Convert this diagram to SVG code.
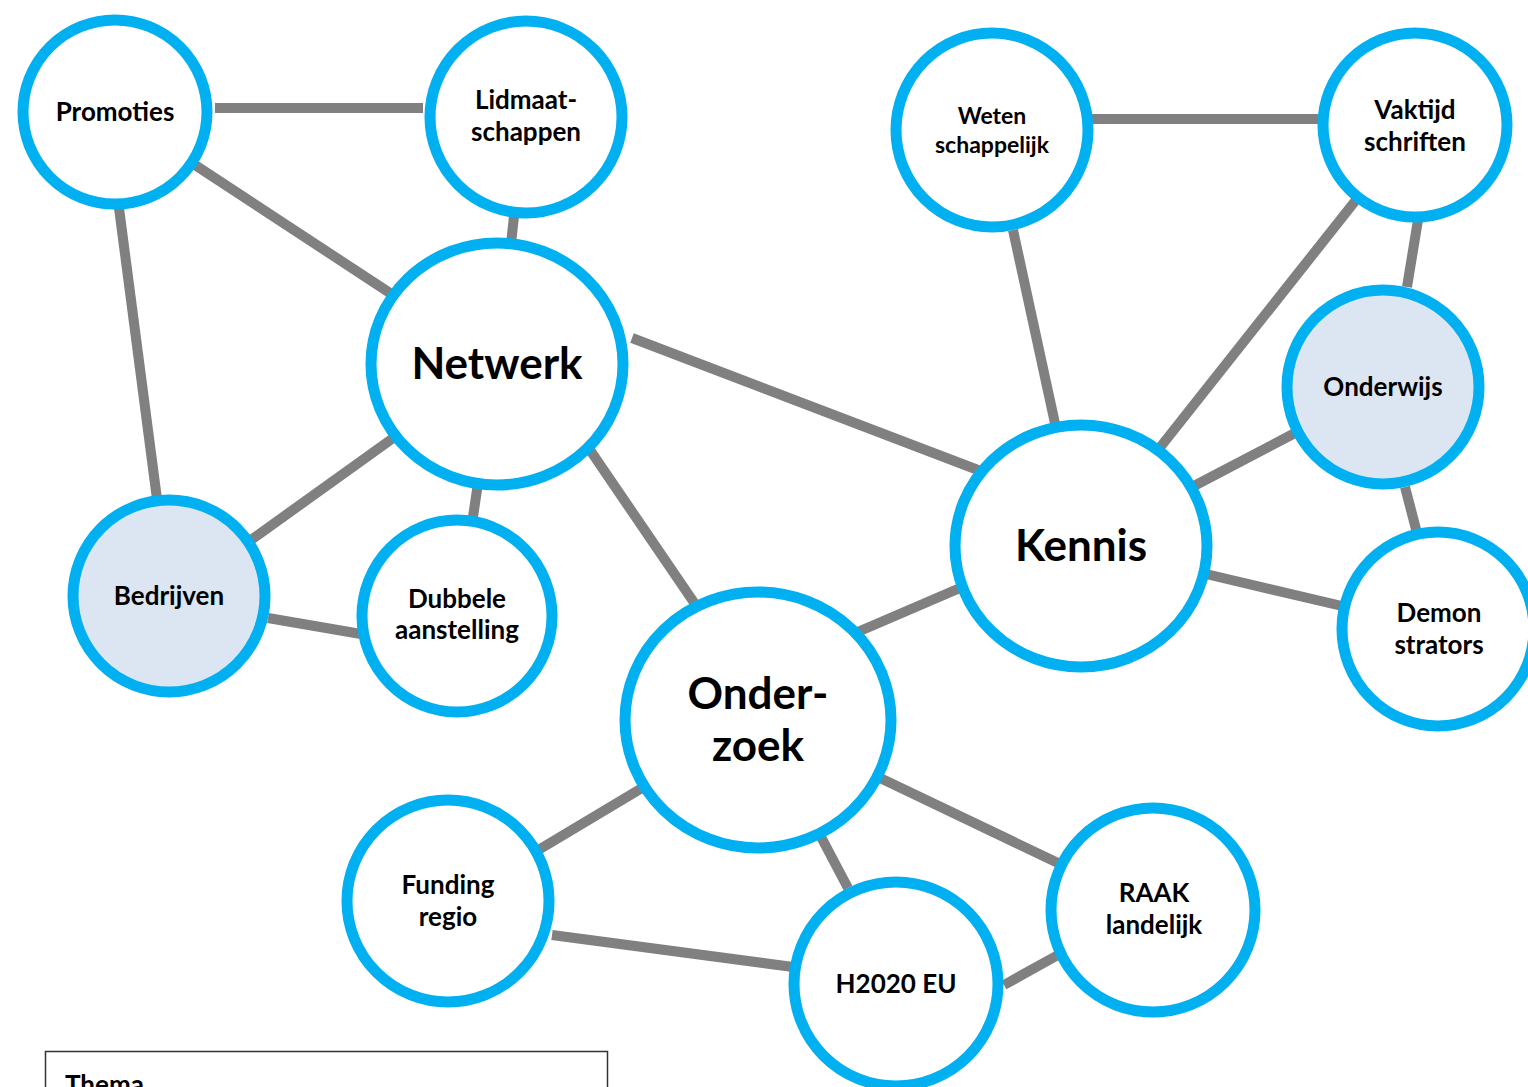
<svg xmlns="http://www.w3.org/2000/svg" width="1528" height="1087" viewBox="0 0 1528 1087">
<style>
.n{fill:#FFFFFF;stroke:#00B0F0;stroke-width:11}
.h{fill:#DCE6F2;stroke:#00B0F0;stroke-width:11}
.e{stroke:#808080;stroke-width:10;fill:none}
text{font-family:Lato,"Open Sans","Liberation Sans",sans-serif;font-weight:bold;fill:#000;text-anchor:middle}
.s{font-size:26px}
.m{font-size:23px}
.b{font-size:44px}
</style>
<rect width="1528" height="1087" fill="#FFFFFF"/>
<g id="connectors">
<line class="e" x1="215" y1="108" x2="423" y2="108"/>
<line class="e" x1="195" y1="165" x2="393" y2="295"/>
<line class="e" x1="119" y1="208" x2="157" y2="499"/>
<line class="e" x1="514" y1="216" x2="511" y2="244"/>
<line class="e" x1="396" y1="436" x2="251" y2="540"/>
<line class="e" x1="478" y1="483" x2="473" y2="517"/>
<line class="e" x1="632" y1="338" x2="978" y2="470"/>
<line class="e" x1="590" y1="450" x2="695" y2="604"/>
<line class="e" x1="268" y1="618" x2="361" y2="634"/>
<line class="e" x1="1091" y1="119" x2="1320" y2="119"/>
<line class="e" x1="1013" y1="230" x2="1056" y2="428"/>
<line class="e" x1="1356" y1="200" x2="1158" y2="450"/>
<line class="e" x1="1418" y1="220" x2="1407" y2="287"/>
<line class="e" x1="1192" y1="487" x2="1295" y2="433"/>
<line class="e" x1="1405" y1="487" x2="1417" y2="533"/>
<line class="e" x1="1206" y1="574" x2="1342" y2="606"/>
<line class="e" x1="960" y1="588" x2="853" y2="634"/>
<line class="e" x1="642" y1="788" x2="540" y2="849"/>
<line class="e" x1="820" y1="835" x2="848" y2="888"/>
<line class="e" x1="878" y1="777" x2="1058" y2="863"/>
<line class="e" x1="552" y1="935" x2="793" y2="967"/>
<line class="e" x1="1004" y1="985" x2="1058" y2="955"/>
</g>
<g id="promoties"><ellipse class="n" cx="115" cy="112" rx="92" ry="92"/><text class="s" x="115" y="121">Promoties</text></g>
<g id="lidmaatschappen"><ellipse class="n" cx="526" cy="117" rx="96" ry="96"/><text class="s" x="526" y="109">Lidmaat-</text><text class="s" x="526" y="141">schappen</text></g>
<g id="netwerk"><ellipse class="n" cx="497" cy="364" rx="126" ry="121"/><text class="b" x="497" y="379">Netwerk</text></g>
<g id="bedrijven"><ellipse class="h" cx="169" cy="596" rx="96" ry="96"/><text class="s" x="169" y="605">Bedrijven</text></g>
<g id="dubbele"><ellipse class="n" cx="457" cy="616" rx="95" ry="96"/><text class="s" x="457" y="608">Dubbele</text><text class="s" x="457" y="639">aanstelling</text></g>
<g id="wetenschappelijk"><ellipse class="n" cx="992" cy="130" rx="96" ry="97"/><text class="m" x="992" y="124">Weten</text><text class="m" x="992" y="153">schappelijk</text></g>
<g id="vaktijdschriften"><ellipse class="n" cx="1415" cy="125" rx="92" ry="92"/><text class="s" x="1415" y="119">Vaktijd</text><text class="s" x="1415" y="151">schriften</text></g>
<g id="onderwijs"><ellipse class="h" cx="1383" cy="387" rx="96" ry="97"/><text class="s" x="1383" y="396">Onderwijs</text></g>
<g id="kennis"><ellipse class="n" cx="1081" cy="546" rx="126" ry="121"/><text class="b" x="1081" y="561">Kennis</text></g>
<g id="demonstrators"><ellipse class="n" cx="1438" cy="629" rx="96" ry="97"/><text class="s" x="1439" y="622">Demon</text><text class="s" x="1439" y="654">strators</text></g>
<g id="onderzoek"><ellipse class="n" cx="758" cy="720" rx="133" ry="128"/><text class="b" x="758" y="709">Onder-</text><text class="b" x="758" y="761">zoek</text></g>
<g id="funding"><ellipse class="n" cx="448" cy="901" rx="101" ry="101"/><text class="s" x="448" y="894">Funding</text><text class="s" x="448" y="926">regio</text></g>
<g id="h2020"><ellipse class="n" cx="896" cy="984" rx="102" ry="102"/><text class="s" x="896" y="993">H2020 EU</text></g>
<g id="raak"><ellipse class="n" cx="1153" cy="910" rx="102" ry="102"/><text class="s" x="1154" y="902">RAAK</text><text class="s" x="1154" y="934">landelijk</text></g>
<g id="thema"><rect x="45.5" y="1051.5" width="562" height="60" fill="#FFFFFF" stroke="#333333" stroke-width="1.5"/><text class="s" x="65" y="1094" style="text-anchor:start">Thema</text></g>
</svg>
